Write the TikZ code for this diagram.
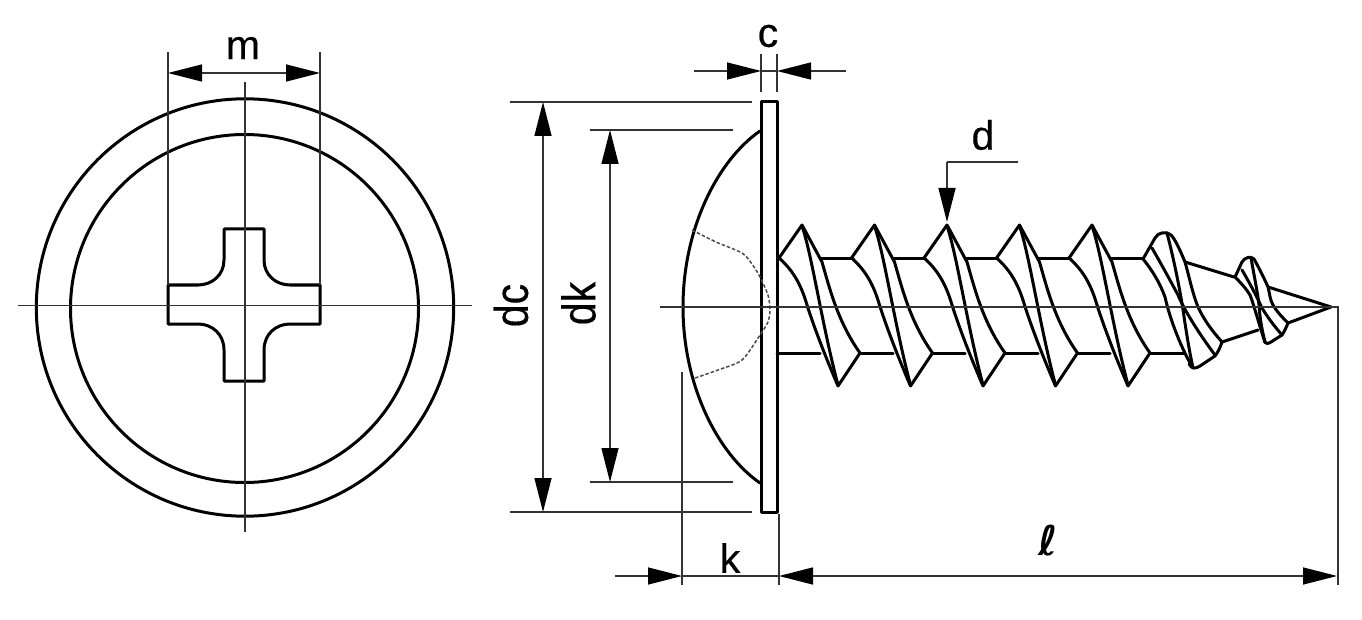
\documentclass[tikz,border=0pt]{standalone}
\usepackage{graphicx}
\usepackage{fontspec}
\setmainfont[FakeBold=0.4]{Liberation Sans}
\newfontfamily\ellfont{DejaVu Sans}
\usetikzlibrary{arrows.meta}
\tikzset{
  obj/.style={line width=3pt,line join=round,line cap=round},
  thin line/.style={line width=1.4pt,black!80},
  dim/.style={line width=1.4pt,black!80,{Triangle[length=34pt,width=17pt,color=black,fill=black]}-{Triangle[length=34pt,width=17pt,color=black,fill=black]}},
  dimend/.style={line width=1.4pt,black!80,-{Triangle[length=34pt,width=17pt,color=black,fill=black]}},
  recess/.style={line width=1.5pt,black!70,dash pattern=on 3.5pt off 2pt},
  lbl/.style={font=\fontsize{41}{41}\selectfont,inner sep=0pt,text=black}
}
\begin{document}
\begin{tikzpicture}[x=1pt,y=-1pt]
\path[use as bounding box,fill=white] (0,0) rectangle (1362,620);
% ---- front view
\draw[obj] (245,307.5) circle[radius=208.7pt];
\draw[obj] (244.5,308.5) circle[radius=174pt];
\draw[obj] (224,229) -- (264,229) -- (264,260) .. controls (264,275) and (276,285) .. (290,285) -- (320,285) -- (320,324) -- (290,324)
  .. controls (276,324) and (264,334) .. (264,350) -- (264,381) -- (224,381) -- (224,350) .. controls (224,334) and (212,324) .. (198,324)
  -- (168,324) -- (168,285) -- (198,285) .. controls (212,285) and (224,275) .. (224,260) -- cycle;
\draw[thin line] (18,305.5) -- (472,305.5);
\draw[thin line] (245,82) -- (245,532);
\draw[thin line] (168,52) -- (168,285);
\draw[thin line] (320,52) -- (320,285);
\coordinate (mL) at (168,73);
\coordinate (mR) at (320,73);
\draw[dim] (mL) -- (mR);
\node[lbl] (m) at (243,48) {m};
% ---- side view: washer and head
\draw[obj] (760,131) .. controls (718,160) and (683,228) .. (683,307) .. controls (683,386) and (718,454) .. (760,483);
\draw[obj] (761,102) rectangle (777,512);
\draw[recess] plot[smooth,tension=0.45] coordinates {(692,230) (716,242) (742,253) (752,264) (760,277) (768,295) (770,310) (768,322) (760,335) (742,360) (718,370) (695,378)};
% ---- thread
\foreach \dx in {0,72.5,145,217.5,290}{
  \begin{scope}[shift={(\dx,0)}]
  \draw[obj] (779,258) -- (802,225) -- (822,262) .. controls (830,290) and (838,322) .. (860,353) -- (838,386);
  \draw[obj] (779,258) .. controls (795,272) and (802,288) .. (807,305) .. controls (815,330) and (826,358) .. (838,386);
  \draw[obj] (802,226) .. controls (812,255) and (822,325) .. (838,385);
  \end{scope}
}
\draw[obj] (820,259) -- (853,259);
\draw[obj] (893,259) -- (925,259);
\draw[obj] (965,259) -- (997,259);
\draw[obj] (1038,259) -- (1070,259);
\draw[obj] (1110,259) -- (1143,259);
\draw[obj] (777,353.5) -- (820,353.5);
\draw[obj] (860,353.5) -- (893,353.5);
\draw[obj] (933,353.5) -- (965,353.5);
\draw[obj] (1005,353.5) -- (1038,353.5);
\draw[obj] (1078,353.5) -- (1110,353.5);
\draw[obj] (1150,353.5) -- (1184,353.5);
% ---- taper thread 6
\draw[obj] (1143,259) -- (1155,238) .. controls (1158,232) and (1167,231) .. (1171,235) .. controls (1175,239) and (1180,250) .. (1185,262)
  .. controls (1190,280) and (1193,295) .. (1198,307) .. controls (1205,322) and (1214,333) .. (1222,342)
  .. controls (1220,348) and (1218,352) .. (1215,356) -- (1200,366) .. controls (1195,369) and (1192,369) .. (1189,364);
\draw[obj] (1143,259) .. controls (1152,270) and (1160,283) .. (1165,297) .. controls (1170,320) and (1182,350) .. (1193,368);
\draw[obj] (1152,248) .. controls (1160,262) and (1170,280) .. (1178,295) .. controls (1184,310) and (1200,335) .. (1215,355);
\draw[obj] (1167,233) .. controls (1174,260) and (1180,290) .. (1183,310) .. controls (1186,330) and (1189,350) .. (1193,368);
% taper body
\draw[obj] (1185,262) -- (1234,277);
\draw[obj] (1222,342) -- (1258,330);
% thread 7
\draw[obj] (1235,277) -- (1242,262) .. controls (1245,257) and (1251,256) .. (1254,259) .. controls (1259,268) and (1264,278) .. (1268,287)
  .. controls (1270,295) and (1270,300) .. (1273,305) .. controls (1277,312) and (1283,318) .. (1288,323)
  .. controls (1286,328) and (1284,332) .. (1282,335) -- (1271,342) .. controls (1268,344) and (1266,344) .. (1264,341);
\draw[obj] (1235,277) .. controls (1242,284) and (1247,290) .. (1250,295) .. controls (1254,305) and (1260,328) .. (1265,342);
\draw[obj] (1242,270) .. controls (1248,280) and (1256,295) .. (1262,308) .. controls (1268,318) and (1275,327) .. (1282,335);
\draw[obj] (1251,258) .. controls (1254,275) and (1258,295) .. (1259,305) .. controls (1260,320) and (1262,330) .. (1265,342);
% tip
\draw[obj] (1268,287) -- (1331,307) -- (1288,323);
% ---- centre line and extension lines
\draw[thin line] (660,307) -- (1338,307) -- (1338,585);
\draw[thin line] (510,102) -- (752,102);
\draw[thin line] (510,512) -- (752,512);
\draw[thin line] (590,130) -- (733,130);
\draw[thin line] (590,482) -- (733,482);
\draw[thin line] (761,54) -- (761,92);
\draw[thin line] (777,54) -- (777,92);
\draw[thin line] (682,372) -- (682,585);
\draw[thin line] (779,514) -- (779,585);
% ---- dimensions
\coordinate (dcT) at (543,102);
\coordinate (dcB) at (543,512);
\draw[dim] (dcT) -- (dcB);
\coordinate (dkT) at (610,130);
\coordinate (dkB) at (610,482);
\draw[dim] (dkT) -- (dkB);
\coordinate (cLs) at (694,71);
\coordinate (cLe) at (761,71);
\coordinate (cRs) at (846,71);
\coordinate (cRe) at (777,71);
\draw[dimend] (cLs) -- (cLe);
\draw[dimend] (cRs) -- (cRe);
\draw[thin line] (cLe) -- (cRe);
\coordinate (kS) at (615,576);
\coordinate (kE) at (682,576);
\coordinate (kR) at (779,576);
\coordinate (lR) at (1337,576);
\draw[dimend] (kS) -- (kE);
\draw[thin line] (kE) -- (kR);
\draw[dim] (kR) -- (lR);
\coordinate (dE) at (1018,162);
\coordinate (dC) at (947,162);
\coordinate (dT) at (947,222);
\draw[thin line] (dE) -- (dC);
\draw[dimend] (dC) -- (dT);
% ---- labels
\node[lbl] (c) at (768,36) {c};
\node[lbl,rotate=90] (dc) at (511,305.5) {\scalebox{1}[1.15]{dc}};
\node[lbl,rotate=90] (dk) at (578.5,303.5) {\scalebox{1}[1.15]{dk}};
\node[lbl] (d) at (983,135) {d};
\node[lbl] (k) at (730,558) {k};
\node[lbl] (l) at (1048,541) {\ellfont\bfseries\itshape ℓ};
\end{tikzpicture}
\end{document}
